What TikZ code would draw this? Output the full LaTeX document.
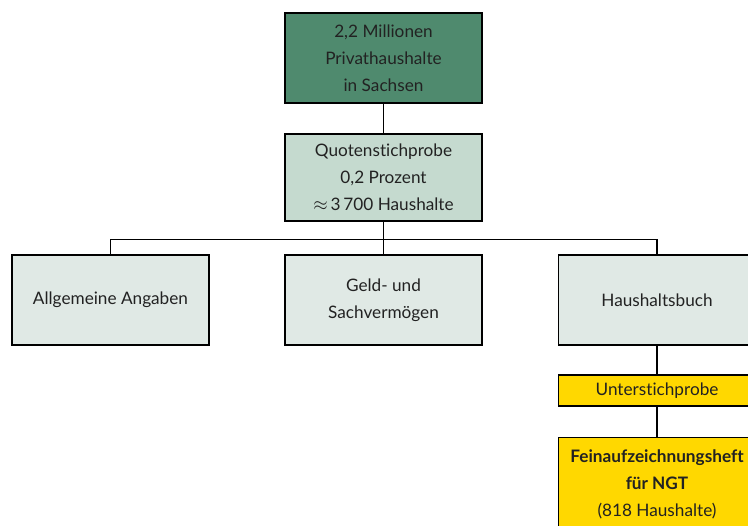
\documentclass[tikz,border=0pt]{standalone}
\usepackage{fontspec}
\setmainfont{Lato}[Ligatures={NoCommon}]
\usetikzlibrary{positioning}

\definecolor{totalgreen}{HTML}{4F8A6E}
\definecolor{samplegreen}{HTML}{C5DACF}
\definecolor{partgrey}{HTML}{E0E9E5}
\definecolor{subyellow}{HTML}{FFD800}
\definecolor{textgrey}{HTML}{222222}

\begin{document}
\begin{tikzpicture}
[   on grid,
    x=0.5pt, y=-0.5pt,
    font = \fontsize{8.6}{13.5}\selectfont,
    text = textgrey,
    inner sep=0pt,
    every node/.style={draw, line width=0.65pt, align=center, minimum width=98.5pt},
    bigbox/.style={minimum height=45pt},
    connect/.style={draw, line width=0.6pt}
]
\clip (0,0) rectangle (748,525);
\useasboundingbox (0,0) rectangle (748,525);

\node (total) [bigbox, fill=totalgreen] at (383.5,58) {2,2 Millionen\\Privathaushalte\\in Sachsen};
\node (quote) [fill=samplegreen, minimum height=43.5pt, below=59.75pt of total]
    {Quotenstichprobe\\0,2 Prozent\\$\approx$\,3\,700 Haushalte};

% Erhebungsteile
\node (assets) [bigbox, fill=partgrey, below=61.25pt of quote] {Geld- und\\Sachvermögen};
\node (general) [bigbox, fill=partgrey, left=136.5pt of assets] {Allgemeine Angaben};
\node (book) [bigbox, fill=partgrey, right=136.75pt of assets] {Haushaltsbuch};

% Unterstichprobe
\node (sub) [fill=subyellow, minimum height=15.5pt, below=45.25pt of book] {Unterstichprobe};
\node (detail) [fill=subyellow, minimum height=47pt, below=47pt of sub]
    {\textbf{Feinaufzeichnungsheft}\\\textbf{für NGT}\\(818 Haushalte)};

\path[connect] (total) -- (quote);
\path[connect] (quote) -- (assets);
\path[connect] (general.north) -- ++(0,-15) -| (book.north);
\path[connect] (book) -- (sub);
\path[connect] (sub) -- (detail);
\end{tikzpicture}
\end{document}
